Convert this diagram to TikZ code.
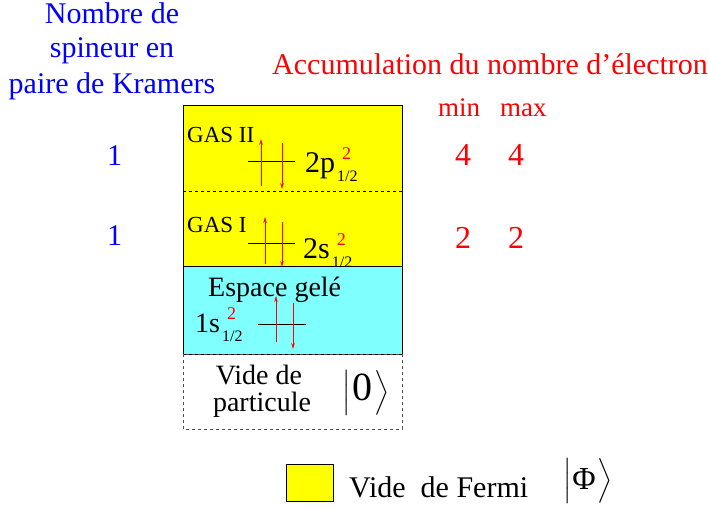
\RequirePackage{fix-cm}
\documentclass[tikz,border=0pt]{standalone}
\usepackage{amsmath}
\usepackage{fontspec}
\setmainfont{Liberation Serif}
\usetikzlibrary{arrows.meta, positioning}

\definecolor{jaune}{RGB}{255,255,0}
\definecolor{cyanclair}{RGB}{128,255,255}
\definecolor{bleu}{RGB}{0,0,255}
\definecolor{rouge}{RGB}{255,0,0}

% orbital label with red occupation and j = 1/2
\newcommand\orbl[1]{#1\hspace{2pt}\rlap{\hspace{5pt}\raisebox{13pt}{\fontsize{18}{18}\selectfont\color{rouge}2}}\raisebox{-9pt}{\fontsize{16}{16}\selectfont 1/2}}
% ket with a large state symbol
\newcommand\ketv[2]{$\bigl|$\hspace{1pt}{\fontsize{#2}{#2}\selectfont #1}\hspace{2pt}$\bigr\rangle$}

\begin{document}
\begin{tikzpicture}[x=1pt, y=-1pt,
  txt/.style={inner sep=0pt, anchor=base west, font=\fontsize{30}{34}\selectfont},
  bl/.style={txt, text=bleu},
  rg/.style={txt, text=rouge},
  gas/.style={inner sep=0pt, anchor=base west, font=\fontsize{23}{26}\selectfont},
  ket/.style={inner sep=0pt, anchor=center, font=\fontsize{28}{32}\selectfont},
  niv/.style={line width=0.8pt},
  spin/.style={rouge, line width=0.8pt, -{Stealth[length=6pt, width=3.5pt]}}
]
\useasboundingbox (0,0) rectangle (708,508);

% espaces
\fill[jaune] (183,105) rectangle (402,266);
\draw[line width=0.8pt] (183,105) rectangle (402,266);
\draw[dashed, line width=0.5pt] (183,191) -- (402,191);
\draw[line width=0.8pt, fill=cyanclair] (183,266) rectangle (402,354);
\draw[dashed, line width=0.5pt, gray!60!black] (183,354) rectangle (402,429);

% colonne de gauche
\node[bl, anchor=base] (t1) at (112,24) {Nombre de};
\node[bl, anchor=base] (t2) at (112,58) {spineur en};
\node[bl, anchor=base] (t3) at (112,93) {paire de Kramers};
\node[bl] (k2) at (107,165) {1};
\node[bl] (k1) at (107,245) {1};

% colonne de droite
\node[rg] (acc) at (272,75) {Accumulation du nombre d’électron};
\node[rg, font=\fontsize{27}{30}\selectfont] (mn) at (438,117) {min};
\node[rg, font=\fontsize{27}{30}\selectfont] (mx) at (500,117) {max};
\node[rg, font=\fontsize{32}{34}\selectfont] (mn2) at (455,165) {4};
\node[rg, font=\fontsize{32}{34}\selectfont] (mx2) at (508,165) {4};
\node[rg, font=\fontsize{32}{34}\selectfont] (mn1) at (455,248) {2};
\node[rg, font=\fontsize{32}{34}\selectfont] (mx1) at (508,248) {2};

% GAS II
\node[gas] (g2) at (187,142) {GAS II};
\coordinate (o2p) at (271,161);
\draw[niv] ([xshift=-23pt]o2p) -- ([xshift=24pt]o2p);
\draw[spin] (261,186) -- (261,139);
\draw[spin] (282,143) -- (282,189);
\node[txt] (l2p) at (305,172) {\orbl{2p}};

% GAS I
\node[gas] (g1) at (187,232) {GAS I};
\coordinate (o2s) at (271,243);
\draw[niv] ([xshift=-23pt]o2s) -- ([xshift=24pt]o2s);
\draw[spin] (265,264) -- (265,217);
\draw[spin] (282,222) -- (282,267);
\node[txt] (l2s) at (303,258) {\orbl{2s}};

% espace gele
\node[txt, font=\fontsize{28}{32}\selectfont] (gel) at (208,296) {Espace gelé};
\node[txt, font=\fontsize{28}{32}\selectfont] (l1s) at (195,332) {\orbl{1s}};
\coordinate (o1s) at (282,324);
\draw[niv] ([xshift=-24pt]o1s) -- ([xshift=24pt]o1s);
\draw[spin] (276,342) -- (276,296);
\draw[spin] (293,303) -- (293,349);

% vide de particule
\node[txt, font=\fontsize{28}{32}\selectfont, anchor=base] (vp1) at (259,384) {Vide de};
\node[txt, font=\fontsize{28}{32}\selectfont, anchor=base] (vp2) at (262,411) {particule};
\node[ket] (ket0) at (366,393) {\ketv{0}{40}};

% legende
\draw[line width=0.8pt, fill=jaune] (286,464) rectangle (333,501);
\node[txt] (vf) at (349,497) {Vide\ \ de Fermi};
\node[ket, font=\fontsize{32}{36}\selectfont] (ketf) at (588,481) {\ketv{Φ}{32}};
\end{tikzpicture}
\end{document}
